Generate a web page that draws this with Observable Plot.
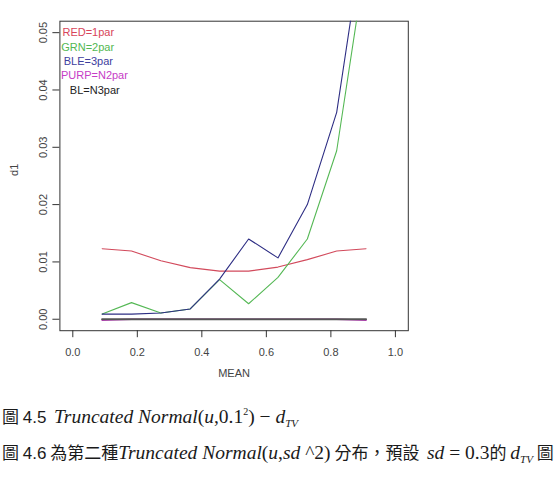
<!DOCTYPE html>
<html>
<head>
<meta charset="utf-8">
<script src="https://cdn.jsdelivr.net/npm/d3@7"></script>
<script src="https://cdn.jsdelivr.net/npm/@observablehq/plot@0.6"></script>
<style>
  body { margin: 0; background: #fff; width: 559px; height: 477px; overflow: hidden; position: relative; }
  #chart { position: absolute; left: 0; top: 0; }
  .cap { position: absolute; left: 2px; white-space: nowrap; font-family: "Noto Sans CJK TC", sans-serif; font-size: 17px; line-height: 22px; color: #1a1a1a; }
  .cap .num { font-family: "Liberation Sans", Arial, sans-serif; }
  .cap .m { font-family: "Liberation Serif", "Times New Roman", serif; font-size: 19.5px; }
  .cap i { font-family: "Liberation Serif", "Times New Roman", serif; font-style: italic; font-size: 19.5px; }
  .cap sup { font-family: "Liberation Serif", serif; font-size: 10px; vertical-align: 8px; }
  .cap sub { font-family: "Liberation Serif", serif; font-style: italic; font-size: 11px; vertical-align: -4px; }
</style>
</head>
<body>
<div id="chart"></div>
<div class="cap" style="top:401px">圖 <span class="num">4.5</span>&nbsp;&nbsp;<i>Truncated Normal</i><span class="m">(</span><i>u</i><span class="m">,0.1</span><sup>2</sup><span class="m">)</span><span class="m"> − </span><i>d</i><sub>TV</sub></div>
<div class="cap" style="top:441px">圖 <span class="num">4.6</span> 為第二種<i>Truncated Normal</i><span class="m">(</span><i>u</i><span class="m">,</span><i>sd</i><span class="m"> ^2)</span> 分布，預設&nbsp;&nbsp;<i>sd</i><span class="m"> = 0.3</span>的 <i>d</i><sub>TV</sub> 圖</div>
<script>
// MEAN grid and the d1 distance for each fitted model
const mean  = [0.091, 0.182, 0.273, 0.364, 0.455, 0.545, 0.636, 0.727, 0.818, 0.909];
const par1  = [0.0123, 0.0119, 0.0102, 0.0090, 0.0084, 0.0084, 0.0091, 0.0104, 0.0119, 0.0123];
const par2  = [0.0009, 0.0029, 0.0011, 0.0018, 0.0069, 0.0027, 0.0073, 0.0140, 0.0294, 0.0630];
const par3  = [0.0009, 0.0009, 0.0011, 0.0018, 0.0070, 0.0140, 0.0107, 0.0200, 0.0361, 0.0700];
const n2par = [-0.00016, 0, 0, 0, 0, 0, 0, 0, 0, -0.00016];
const n3par = [0, 0, 0, 0, 0, 0, 0, 0, 0, 0];

const xTicks = [0, 0.2, 0.4, 0.6, 0.8, 1.0];
const yTicks = [0, 0.01, 0.02, 0.03, 0.04, 0.05];

// legend entries written inside the plot region
const legendLabels = ["RED=1par", "GRN=2par", "BLE=3par", "PURP=N2par", "BL=N3par"];
const legendX = [0.048, 0.046, 0.048, 0.067, 0.068];
const legendY = [0.0500, 0.0475, 0.0450, 0.0425, 0.0400];
const legendColors = ["#d8455a", "#52b852", "#40409e", "#c63cc6", "#222222"];

const series = [
  {name: "1par", values: par1, color: "#d24a5c", width: 1.1},
  {name: "2par", values: par2, color: "#55b855", width: 1.1},
  {name: "3par", values: par3, color: "#2e2e84", width: 1.1},
  {name: "N2par", values: n2par, color: "#c43cc4", width: 1.5},
  {name: "N3par", values: n3par, color: "#555555", width: 2.1}
];

const lines = series.map(s =>
  Plot.line(mean.map((m, i) => ({x: m, y: s.values[i]})), {
    x: "x", y: "y", stroke: s.color, strokeWidth: s.width, clip: true
  })
);

const legend = legendLabels.map((t, i) => ({t, x: legendX[i], y: legendY[i], c: legendColors[i]}));

const chart = Plot.plot({
  width: 559,
  height: 390,
  marginLeft: 59.4,
  marginRight: 151.2,
  marginTop: 20.7,
  marginBottom: 59.8,
  style: {fontFamily: "'Liberation Sans', Arial, sans-serif", background: "#fff", color: "#333"},
  x: {domain: [-0.04, 1.04]},
  y: {domain: [-0.002, 0.052]},
  marks: [
    Plot.frame({stroke: "#333", strokeWidth: 1}),
    Plot.axisX({ticks: xTicks, tickFormat: d3.format(".1f"), tickSize: 7, tickPadding: 10, fontSize: 11, label: null, stroke: "#333", fill: "#444"}),
    Plot.axisY({ticks: yTicks, tickFormat: d3.format(".2f"), tickSize: 7, tickPadding: 6, tickRotate: -90, fontSize: 11, label: null, stroke: "#333", fill: "#444"}),
    Plot.text(["d1"], {frameAnchor: "left", dx: -45, rotate: -90, fontSize: 11, fill: "#444"}),
    Plot.text(["MEAN"], {frameAnchor: "bottom", dy: 46, fontSize: 11, fill: "#444"}),
    ...lines,
    Plot.text(legend, {x: "x", y: "y", text: "t", fill: "c", fontSize: 11})
  ]
});
document.getElementById("chart").append(chart);
</script>
</body>
</html>
